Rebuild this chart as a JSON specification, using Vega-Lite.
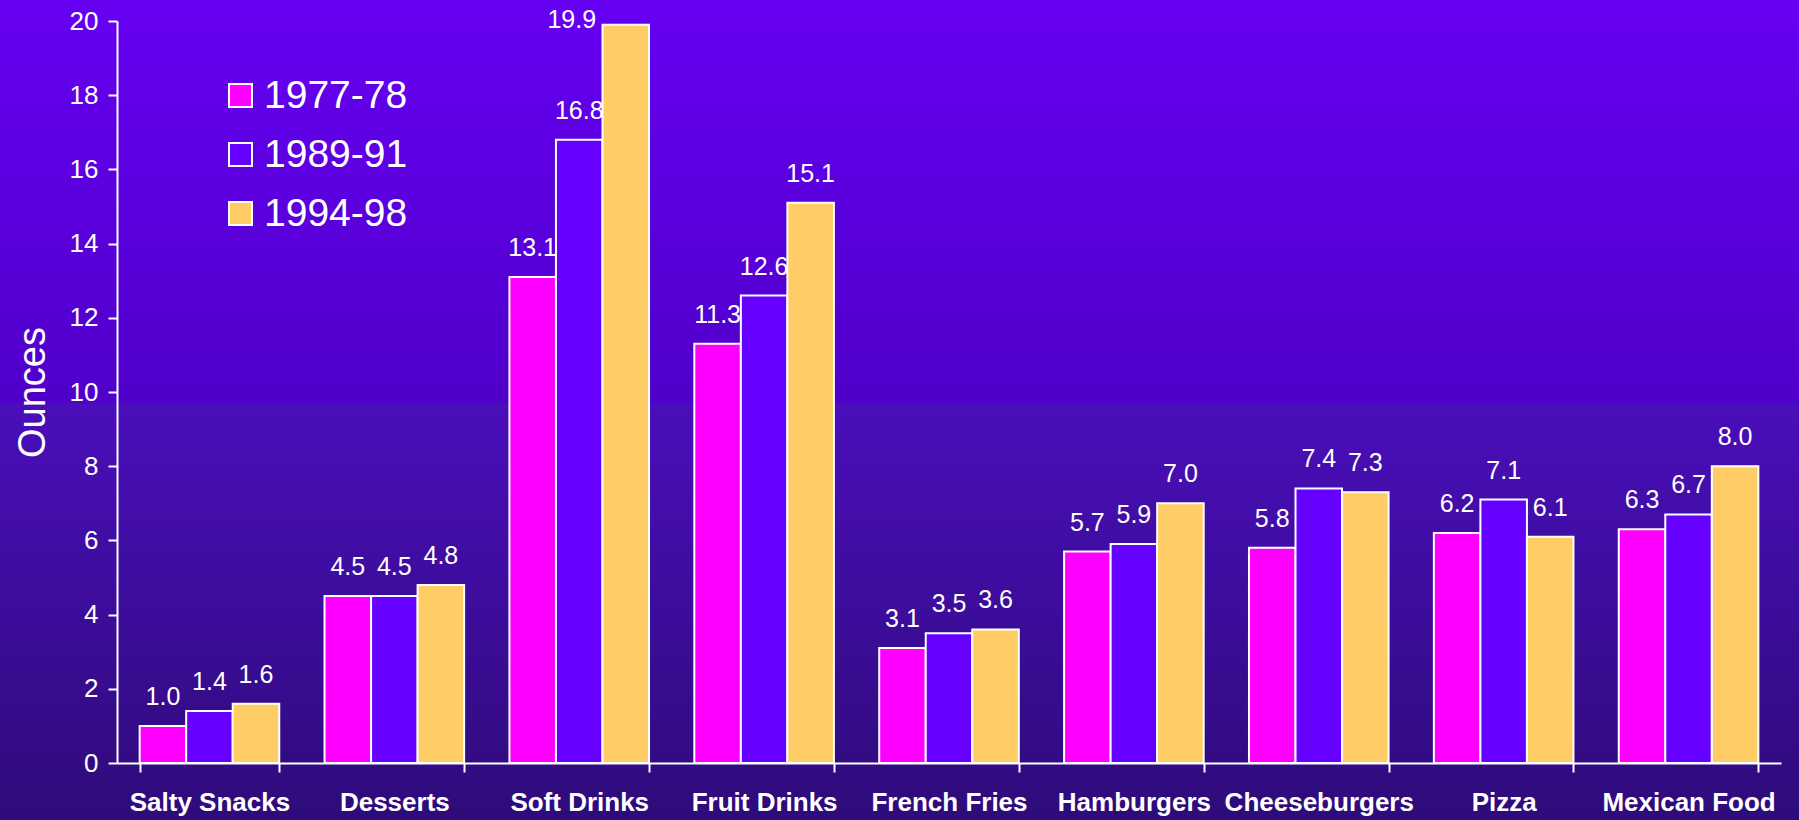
{
  "$schema": "https://vega.github.io/schema/vega-lite/v6.json",
  "width": 1799,
  "height": 820,
  "autosize": "none",
  "padding": 0,
  "background": "#4A08B8",
  "config": {
    "font": "Liberation Sans",
    "view": {
      "stroke": null,
      "fill": {
        "gradient": "linear",
        "x1": 0, "y1": 0, "x2": 0, "y2": 1,
        "stops": [
          {"offset": 0, "color": "#6600F2"},
          {"offset": 0.49, "color": "#5000CA"},
          {"offset": 0.493, "color": "#4A0EBA"},
          {"offset": 1, "color": "#2E0B7A"}
        ]
      }
    }
  },
  "data": {
    "values": [
      {"food": "Salty Snacks", "period": "1977-78", "value": 1.0},
      {"food": "Salty Snacks", "period": "1989-91", "value": 1.4},
      {"food": "Salty Snacks", "period": "1994-98", "value": 1.6},
      {"food": "Desserts", "period": "1977-78", "value": 4.5},
      {"food": "Desserts", "period": "1989-91", "value": 4.5},
      {"food": "Desserts", "period": "1994-98", "value": 4.8},
      {"food": "Soft Drinks", "period": "1977-78", "value": 13.1},
      {"food": "Soft Drinks", "period": "1989-91", "value": 16.8},
      {"food": "Soft Drinks", "period": "1994-98", "value": 19.9},
      {"food": "Fruit Drinks", "period": "1977-78", "value": 11.3},
      {"food": "Fruit Drinks", "period": "1989-91", "value": 12.6},
      {"food": "Fruit Drinks", "period": "1994-98", "value": 15.1},
      {"food": "French Fries", "period": "1977-78", "value": 3.1},
      {"food": "French Fries", "period": "1989-91", "value": 3.5},
      {"food": "French Fries", "period": "1994-98", "value": 3.6},
      {"food": "Hamburgers", "period": "1977-78", "value": 5.7},
      {"food": "Hamburgers", "period": "1989-91", "value": 5.9},
      {"food": "Hamburgers", "period": "1994-98", "value": 7.0},
      {"food": "Cheeseburgers", "period": "1977-78", "value": 5.8},
      {"food": "Cheeseburgers", "period": "1989-91", "value": 7.4},
      {"food": "Cheeseburgers", "period": "1994-98", "value": 7.3},
      {"food": "Pizza", "period": "1977-78", "value": 6.2},
      {"food": "Pizza", "period": "1989-91", "value": 7.1},
      {"food": "Pizza", "period": "1994-98", "value": 6.1},
      {"food": "Mexican Food", "period": "1977-78", "value": 6.3},
      {"food": "Mexican Food", "period": "1989-91", "value": 6.7},
      {"food": "Mexican Food", "period": "1994-98", "value": 8.0}
    ]
  },
  "encoding": {
    "x": {
      "field": "food",
      "type": "nominal",
      "sort": null,
      "scale": {"range": [117, 1781], "paddingInner": 0.245, "paddingOuter": 0.1225},
      "axis": {
        "title": null,
        "offset": -57,
        "domainColor": "white",
        "domainWidth": 2,
        "tickColor": "white",
        "tickWidth": 2,
        "tickSize": 9,
        "tickBand": "extent",
        "labelAngle": 0,
        "labelColor": "white",
        "labelFont": "Liberation Sans",
        "labelFontSize": 26,
        "labelFontWeight": "bold",
        "labelPadding": 17,
        "labelOverlap": false,
        "labelBound": false,
        "labelFlush": false,
        "labelLimit": 400
      }
    },
    "xOffset": {
      "field": "period",
      "type": "nominal",
      "sort": null,
      "scale": {"paddingInner": 0, "paddingOuter": 0}
    },
    "y": {
      "field": "value",
      "type": "quantitative",
      "scale": {"domain": [0, 20], "range": [763, 21], "nice": false, "zero": true},
      "axis": {
        "title": "Ounces",
        "offset": -117,
        "values": [0, 2, 4, 6, 8, 10, 12, 14, 16, 18, 20],
        "grid": false,
        "domainColor": "white",
        "domainWidth": 2,
        "tickColor": "white",
        "tickWidth": 2,
        "tickSize": 9,
        "labelColor": "white",
        "labelFont": "Liberation Sans",
        "labelFontSize": 26,
        "labelPadding": 10,
        "labelFlush": false,
        "labelOverlap": false,
        "titleColor": "white",
        "titleFont": "Liberation Sans",
        "titleFontSize": 38,
        "titleFontWeight": "normal",
        "titlePadding": 17
      }
    }
  },
  "layer": [
    {
      "mark": {"type": "bar", "stroke": "white", "strokeWidth": 2},
      "encoding": {
        "color": {
          "field": "period",
          "type": "nominal",
          "sort": null,
          "scale": {"domain": ["1977-78", "1989-91", "1994-98"], "range": ["#FF00FF", "#6600FF", "#FFCC66"]},
          "legend": {
            "title": null,
            "orient": "none",
            "legendX": 221,
            "legendY": 76,
            "symbolType": "square",
            "symbolSize": 529,
            "symbolStrokeColor": "white",
            "symbolStrokeWidth": 2,
            "symbolOpacity": 1,
            "labelColor": "white",
            "labelFont": "Liberation Sans",
            "labelFontSize": 39,
            "labelOffset": 4,
            "labelLimit": 400,
            "rowPadding": 19,
            "padding": 0
          }
        }
      }
    },
    {
      "transform": [{"filter": "datum.value < 19"}],
      "mark": {"type": "text", "dy": -21, "baseline": "alphabetic", "fontSize": 25, "color": "white", "font": "Liberation Sans"},
      "encoding": {"text": {"field": "value", "type": "quantitative", "format": ".1f"}}
    },
    {
      "transform": [{"filter": "datum.value >= 19"}],
      "mark": {"type": "text", "dx": -54, "dy": 3, "baseline": "alphabetic", "fontSize": 25, "color": "white", "font": "Liberation Sans"},
      "encoding": {"text": {"field": "value", "type": "quantitative", "format": ".1f"}}
    }
  ]
}
